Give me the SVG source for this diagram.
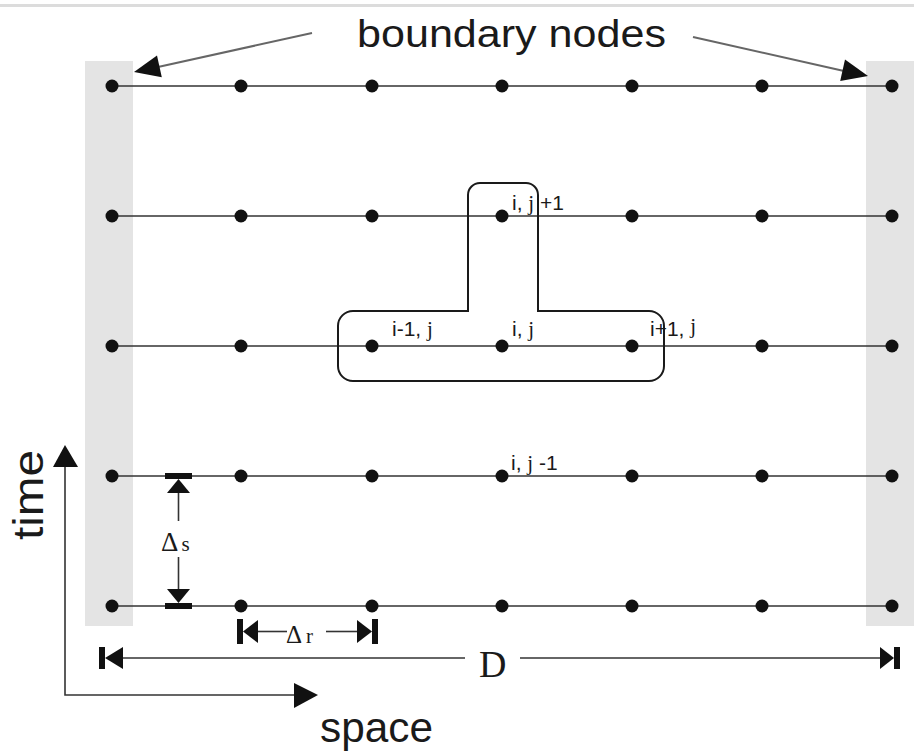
<svg xmlns="http://www.w3.org/2000/svg" width="914" height="756" viewBox="0 0 914 756">
  <style>
    .sans { font-family: "Liberation Sans", Arial, sans-serif; fill: #1a1a1a; }
    .serif { font-family: "Liberation Serif", "Times New Roman", serif; fill: #1a1a1a; }
    .row { stroke: #333; stroke-width: 1.6; fill: none; }
    .node circle { fill: #111; }
    .dim { stroke: #333; stroke-width: 1.6; fill: none; }
    .head { fill: #111; }
    .callout { stroke: #666; stroke-width: 2; fill: none; }
    .lbl { font-size: 21px; }
  </style>

  <rect width="914" height="756" fill="#fff"/>
  <!-- top rule -->
  <rect x="0" y="4" width="914" height="3" fill="#dcdcdc"/>

  <!-- boundary columns -->
  <rect x="85" y="61" width="48" height="565" fill="#e4e4e4"/>
  <rect x="866" y="61" width="48" height="565" fill="#e4e4e4"/>

  <!-- time levels -->
  <g id="connectors">
    <line class="row" x1="112" y1="86" x2="892" y2="86"/>
    <line class="row" x1="112" y1="216" x2="892" y2="216"/>
    <line class="row" x1="112" y1="346" x2="892" y2="346"/>
    <line class="row" x1="112" y1="476" x2="892" y2="476"/>
    <line class="row" x1="112" y1="606" x2="892" y2="606"/>
  </g>

  <!-- grid nodes -->
  <g id="nodes" class="node">
    <g id="row1">
      <circle cx="112" cy="86" r="6.5"/><circle cx="241" cy="86" r="6.5"/><circle cx="372" cy="86" r="6.5"/>
      <circle cx="502" cy="86" r="6.5"/><circle cx="632" cy="86" r="6.5"/><circle cx="762" cy="86" r="6.5"/>
      <circle cx="892" cy="86" r="6.5"/>
    </g>
    <g id="row2">
      <circle cx="112" cy="216" r="6.5"/><circle cx="241" cy="216" r="6.5"/><circle cx="372" cy="216" r="6.5"/>
      <circle cx="502" cy="216" r="6.5"/><circle cx="632" cy="216" r="6.5"/><circle cx="762" cy="216" r="6.5"/>
      <circle cx="892" cy="216" r="6.5"/>
    </g>
    <g id="row3">
      <circle cx="112" cy="346" r="6.5"/><circle cx="241" cy="346" r="6.5"/><circle cx="372" cy="346" r="6.5"/>
      <circle cx="502" cy="346" r="6.5"/><circle cx="632" cy="346" r="6.5"/><circle cx="762" cy="346" r="6.5"/>
      <circle cx="892" cy="346" r="6.5"/>
    </g>
    <g id="row4">
      <circle cx="112" cy="476" r="6.5"/><circle cx="241" cy="476" r="6.5"/><circle cx="372" cy="476" r="6.5"/>
      <circle cx="502" cy="476" r="6.5"/><circle cx="632" cy="476" r="6.5"/><circle cx="762" cy="476" r="6.5"/>
      <circle cx="892" cy="476" r="6.5"/>
    </g>
    <g id="row5">
      <circle cx="112" cy="606" r="6.5"/><circle cx="241" cy="606" r="6.5"/><circle cx="372" cy="606" r="6.5"/>
      <circle cx="502" cy="606" r="6.5"/><circle cx="632" cy="606" r="6.5"/><circle cx="762" cy="606" r="6.5"/>
      <circle cx="892" cy="606" r="6.5"/>
    </g>
  </g>

  <!-- finite-difference stencil outline -->
  <g id="stencil">
    <path d="M468 311 V195 A12 12 0 0 1 480 183 H526 A12 12 0 0 1 538 195 V311 H649 A15 15 0 0 1 664 326 V366 A15 15 0 0 1 649 381 H353 A15 15 0 0 1 338 366 V326 A15 15 0 0 1 353 311 Z" fill="none" stroke="#1a1a1a" stroke-width="2"/>
  </g>

  <!-- stencil labels -->
  <g id="labels" class="sans lbl">
    <text x="512" y="210">i, <tspan class="serif">j</tspan> +1</text>
    <text x="392" y="336">i-1, <tspan class="serif">j</tspan></text>
    <text x="512" y="336">i, <tspan class="serif">j</tspan></text>
    <text x="650" y="336">i+1, <tspan class="serif" dy="-3">j</tspan></text>
    <text x="511" y="470">i, <tspan class="serif">j</tspan> -1</text>
  </g>

  <!-- boundary nodes callout -->
  <g id="boundary-label">
    <text class="sans" x="357" y="47" font-size="38" textLength="309" lengthAdjust="spacingAndGlyphs">boundary nodes</text>
    <line class="callout" x1="312" y1="33" x2="158" y2="67"/>
    <polygon class="head" points="134,72 161.8,77.2 157,55.6"/>
    <line class="callout" x1="693" y1="37" x2="844" y2="71"/>
    <polygon class="head" points="868,76 840.2,81.1 845,59.6"/>
  </g>

  <!-- delta s -->
  <g id="delta-s">
    <rect class="head" x="165" y="473" width="27" height="6"/>
    <polygon class="head" points="178.5,479 167,493 190,493"/>
    <line class="dim" x1="178.5" y1="493" x2="178.5" y2="521"/>
    <line class="dim" x1="178.5" y1="557" x2="178.5" y2="589"/>
    <polygon class="head" points="178.5,603 167,589 190,589"/>
    <rect class="head" x="165" y="603" width="27" height="6"/>
    <text class="serif" x="161" y="551" font-size="27">Δ<tspan font-size="21" dx="3">s</tspan></text>
  </g>

  <!-- delta r -->
  <g id="delta-r">
    <rect class="head" x="237" y="619" width="6" height="25"/>
    <polygon class="head" points="243,631.5 258,620 258,643"/>
    <line class="dim" x1="258" y1="631.5" x2="287" y2="631.5"/>
    <line class="dim" x1="326" y1="631.5" x2="357" y2="631.5"/>
    <polygon class="head" points="372,631.5 357,620 357,643"/>
    <rect class="head" x="372" y="619" width="6" height="25"/>
    <text class="serif" x="286" y="643" font-size="25">Δ<tspan font-size="21" dx="4">r</tspan></text>
  </g>

  <!-- domain width D -->
  <g id="domain-D">
    <rect class="head" x="99" y="647" width="6" height="22"/>
    <polygon class="head" points="105,658 123,647 123,669"/>
    <line class="dim" x1="123" y1="658" x2="465" y2="658"/>
    <line class="dim" x1="520" y1="658" x2="880" y2="658"/>
    <polygon class="head" points="894,658 880,647 880,669"/>
    <rect class="head" x="894" y="647" width="6" height="22"/>
    <text class="serif" x="479" y="677" font-size="38">D</text>
  </g>

  <!-- axes -->
  <g id="axes">
    <polyline points="65,467 65,695 295,695" fill="none" stroke="#333" stroke-width="1.6"/>
    <polygon class="head" points="65,445 53,467 78,467"/>
    <polygon class="head" points="318,695 294,683 294,708"/>
    <text class="sans" x="0" y="0" font-size="42" textLength="90" lengthAdjust="spacingAndGlyphs" transform="translate(43 540) rotate(-90)">time</text>
    <text class="sans" x="320" y="742" font-size="42" textLength="113" lengthAdjust="spacingAndGlyphs">space</text>
  </g>
</svg>
